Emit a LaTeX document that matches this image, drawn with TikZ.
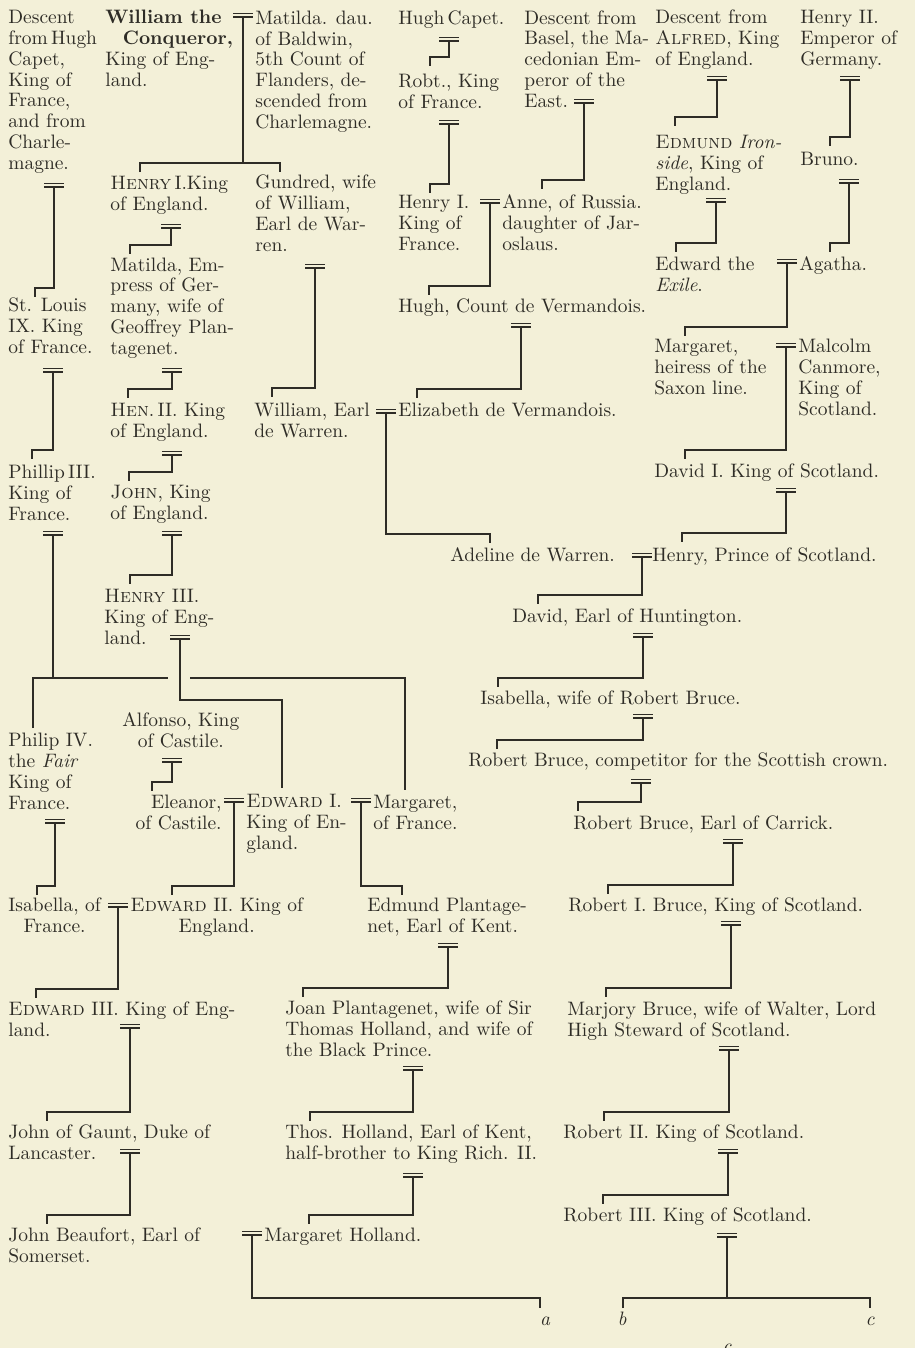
\documentclass[tikz,border=0pt]{standalone}
\usepackage{tikz}
\definecolor{paper}{RGB}{243,240,216}
\definecolor{ink}{RGB}{46,44,38}
\tikzset{
  person/.style={anchor=base west, inner sep=0pt, align=left, text=ink, font=\fontsize{10.7}{11.4}\selectfont},
  tie/.style={draw=ink, line width=0.75pt},
  wedbar/.style={draw=ink, line width=0.65pt},
  letter/.style={anchor=base, inner sep=0pt, text=ink, font=\fontsize{10.7}{11.4}\selectfont\itshape}
}

\begin{document}
\begin{tikzpicture}[x=5.5pt, y=5.5pt]
\useasboundingbox (0,0) rectangle (91.5,-134.8);
\fill[paper] (0,0) rectangle (91.5,-134.8);
% left column: Capet line of France (nodes sit on their last line)
\node[person] (desc-hugh) at (0.8,-16.9) {Descent\\from\,Hugh\\Capet,\\King of\\France,\\and from\\Charle-\\magne.};
\node[person] (stlouis) at (0.8,-35.3) {St. Louis\\IX. King\\of France.};
\node[person] (philip3) at (0.8,-52.0) {Phillip\,III.\\King of\\France.};
\node[person] (philip4) at (0.8,-80.9) {Philip IV.\\the \textit{Fair}\\King of\\France.};
\node[person, align=center] (isabella-fr) at (0.8,-93.2) {Isabella, of\\France.};
\node[person] (edward3) at (0.8,-103.6) {\textsc{Edward} III. King of Eng-\\land.};
\node[person] (gaunt) at (0.8,-115.9) {John of Gaunt, Duke of\\Lancaster.};
\node[person] (beaufort) at (0.8,-126.2) {John Beaufort, Earl of\\Somerset.};
% kings of England
\node[person] (william) at (10.5,-8.6) {\textbf{William the}\\\hspace*{0.9em}\textbf{Conqueror,}\\King of Eng-\\land.};
\node[person] (henry1) at (11.0,-21.0) {\textsc{Henry}\,I.King\\of England.};
\node[person] (matilda-emp) at (11.0,-35.4) {Matilda, Em-\\press of Ger-\\many, wife of\\Geoffrey Plan-\\tagenet.};
\node[person] (henry2) at (11.0,-43.7) {\textsc{Hen}.\,II. King\\of England.};
\node[person] (john) at (11.0,-51.9) {\textsc{John}, King\\of England.};
\node[person] (henry3) at (10.4,-64.4) {\textsc{Henry} III.\\King of Eng-\\land.};
\node[person, align=center] (alfonso) at (12.2,-74.7) {Alfonso, King\\of Castile.};
\node[person, anchor=base east, align=right] (eleanor) at (22.2,-82.9) {Eleanor,\\of Castile.};
\node[person] (edward1) at (24.6,-84.9) {\textsc{Edward} I.\\King of En-\\gland.};
\node[person, align=center] (edward2) at (13.0,-93.2) {\textsc{Edward} II. King of\\England.};
% de Warren and Holland
\node[person] (matilda) at (25.5,-12.8) {Matilda. dau.\\of Baldwin,\\5th Count of\\Flanders, de-\\scended from\\Charlemagne.};
\node[person] (gundred) at (25.5,-25.1) {Gundred, wife\\of William,\\Earl de War-\\ren.};
\node[person] (william-w) at (25.4,-43.7) {William, Earl\\de Warren.};
\node[person] (margaret-fr) at (37.3,-82.9) {Margaret,\\of France.};
\node[person] (edmund) at (36.7,-93.2) {Edmund Plantage-\\net, Earl of Kent.};
\node[person] (joan) at (28.5,-105.6) {Joan Plantagenet, wife of Sir\\Thomas Holland, and wife of\\the Black Prince.};
\node[person] (thos) at (28.5,-115.9) {Thos. Holland, Earl of Kent,\\half-brother to King Rich. II.};
\node[person] (margaret-h) at (26.4,-124.1) {Margaret Holland.};
% Vermandois
\node[person] (hughcapet) at (39.8,-2.4) {Hugh\,Capet.};
\node[person] (robt) at (39.8,-10.8) {Robt., King\\of France.};
\node[person] (henry1-fr) at (39.8,-25.0) {Henry I.\\King of\\France.};
\node[person] (anne) at (50.2,-25.0) {Anne, of Russia.\\daughter of Jar-\\oslaus.};
\node[person] (basel) at (52.4,-10.7) {Descent from\\Basel, the Ma-\\cedonian Em-\\peror of the\\East.};
\node[person] (hugh-v) at (39.8,-31.2) {Hugh, Count de Vermandois.};
\node[person] (elizabeth) at (39.8,-41.6) {Elizabeth de Vermandois.};
\node[person] (adeline) at (45.0,-56.1) {Adeline de Warren.};
% Scotland
\node[person] (alfred) at (65.5,-6.5) {Descent from\\\textsc{Alfred}, King\\of England.};
\node[person] (edmund-ir) at (65.5,-19.0) {\textsc{Edmund} \textit{Iron-}\\\textit{side}, King of\\England.};
\node[person] (edward-ex) at (65.5,-29.1) {Edward the\\\textit{Exile}.};
\node[person] (henry-ger) at (80.0,-6.5) {Henry II.\\Emperor of\\Germany.};
\node[person] (bruno) at (80.0,-16.5) {Bruno.};
\node[person] (agatha) at (79.9,-27.0) {Agatha.};
\node[person] (margaret-s) at (65.4,-39.4) {Margaret,\\heiress of the\\Saxon line.};
\node[person] (malcolm) at (79.8,-41.5) {Malcolm\\Canmore,\\King of\\Scotland.};
\node[person] (david1) at (65.4,-47.7) {David I. King of Scotland.};
\node[person] (henry-s) at (65.2,-56.1) {Henry, Prince of Scotland.};
\node[person] (david-h) at (51.2,-62.2) {David, Earl of Huntington.};
\node[person] (isabella-b) at (48.0,-70.4) {Isabella, wife of Robert Bruce.};
\node[person] (bruce-comp) at (46.8,-76.6) {Robert Bruce, competitor for the Scottish crown.};
\node[person] (bruce-carr) at (57.3,-82.9) {Robert Bruce, Earl of Carrick.};
\node[person] (robert1) at (56.8,-91.1) {Robert I. Bruce, King of Scotland.};
\node[person] (marjory) at (56.7,-103.6) {Marjory Bruce, wife of Walter, Lord\\High Steward of Scotland.};
\node[person] (robert2) at (56.3,-113.8) {Robert II. King of Scotland.};
\node[person] (robert3) at (56.3,-122.1) {Robert III. King of Scotland.};
% continuation marks
\node[letter] (mark-a) at (54.5,-132.5) {a};
\node[letter] (mark-b) at (62.2,-132.5) {b};
\node[letter] (mark-c) at (87.0,-132.5) {c};
\node[letter] (sig-c) at (72.7,-135.2) {c};
% marriage signs
\foreach \n/\x/\y in {conq/24.3/1.7, charl/5.4/18.7, hcap/44.9/4.1, basel/58.4/10.3,
  alfred/71.7/8.0, hger/85.0/8.0, robt/44.9/12.4, edmir/71.6/20.2, bruno/84.9/18.3,
  hen1/17.1/22.8, hen1fr/49.0/20.3, gund/31.5/26.8, exile/78.7/26.3, hverm/52.1/32.7,
  marg/78.6/34.7, louis/5.3/37.2, matemp/17.2/37.2, warren/38.6/41.3, hen2/17.2/45.5,
  david/78.6/49.2, phil3/5.3/53.5, john/17.2/53.5, adel/64.2/55.7, hen3/18.0/63.9,
  dhunt/64.3/63.7, isab/64.3/71.8, alf/17.2/76.2, rbcomp/64.1/78.3, elea/23.4/80.2,
  edw1/36.1/80.2, phil4/5.5/82.3, carr/73.3/84.3, isfr/11.8/90.7, rob1/73.1/92.5,
  edm/44.8/94.7, edw3/13.0/102.8, marj/72.9/105.0, joan/41.3/107.0, gaunt/13.0/115.3,
  rob2/72.8/115.3, thos/41.3/117.7, beau/25.2/123.5, rob3/72.7/123.7}{
  \draw[wedbar] (\x-1,-\y+0.35) -- (\x+1,-\y+0.35) (\x-1,-\y) -- (\x+1,-\y);
  \coordinate (m-\n) at (\x,-\y);
}
% lines of descent
\foreach \n/\h/\t in {charl/28.8/3.5, hcap/5.7/43.0, basel/18.0/54.2, alfred/11.7/67.5,
  hger/13.7/83.0, robt/18.4/43.0, edmir/24.3/67.6, bruno/24.3/83.0, hen1/24.5/13.0,
  hen1fr/28.6/42.9, gund/38.8/27.2, exile/32.7/68.5, hverm/38.9/41.7, marg/45.0/68.5,
  louis/45.0/3.2, matemp/38.9/12.8, warren/53.4/49.0, hen2/47.2/12.9, david/53.3/68.2,
  john/57.5/13.0, adel/59.5/53.8, dhunt/67.8/49.8, isab/74.0/49.7, alf/78.2/15.2,
  rbcomp/80.2/57.8, elea/88.6/17.2, edw1/88.6/40.2, phil4/88.6/3.7, carr/88.5/60.8,
  isfr/98.9/3.6, rob1/98.8/60.6, edm/98.8/30.3, edw3/111.2/4.7, marj/111.2/60.4,
  joan/111.2/31.0, gaunt/121.5/4.7, rob2/119.5/60.3, thos/121.5/30.9}{
  \draw[tie] (m-\n) |- (\t,-\h) -- ++(0,-0.9);
}
% the Conqueror's two children
\draw[tie] (m-conq) -- (24.3,-16.3);
\draw[tie] (14.0,-17.2) |- (28.0,-16.3) -- (28.0,-17.2);
% Philip III's children, crossed by Henry III's line
\draw[tie] (m-phil3) -- (5.3,-67.8);
\draw[tie] (3.3,-72.8) |- (16.8,-67.8);
\draw[tie] (19.0,-67.8) -| (40.5,-79.0);
\draw[tie] (m-hen3) |- (28.2,-70.0) -- (28.2,-78.8);
% carried over to the next table
\draw[tie] (m-beau) |- (54.0,-129.8) -- (54.0,-130.8);
\draw[tie] (m-rob3) -- (72.7,-129.8);
\draw[tie] (62.3,-130.8) |- (87.0,-129.8) -- (87.0,-130.8);
\end{tikzpicture}
\end{document}
